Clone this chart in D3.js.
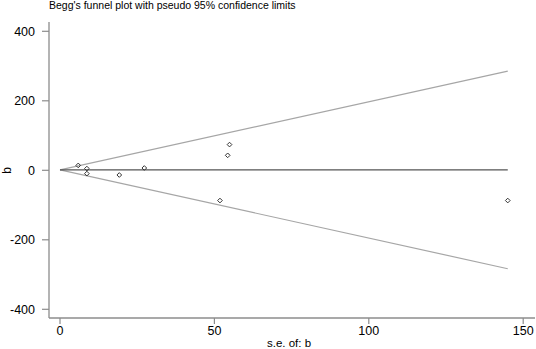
<!DOCTYPE html>
<html>
<head>
<meta charset="utf-8">
<script src="https://cdn.jsdelivr.net/npm/d3@7"></script>
<style>
  body { margin: 0; background: #fff; }
  text { font-family: "Liberation Sans", Arial, sans-serif; fill: #000; }
</style>
</head>
<body>
<div id="chart"></div>
<script>
// study standard errors and effect estimates
const seValues = [5.9, 8.7, 8.7, 19.2, 27.3, 51.8, 54.3, 54.9, 145];
const bValues = [14, 5, -9.5, -13.5, 6.6, -87, 43, 74, -87];
const pooled = 1;
const xTicks = [0, 50, 100, 150];
const yTicks = [-400, -200, 0, 200, 400];

const width = 536, height = 349;

const svg = d3.select("#chart").append("svg")
    .attr("width", width)
    .attr("height", height);

const x = d3.scaleLinear().domain([0, 50]).range([60, 214.4]);
const y = d3.scaleLinear().domain([0, 400]).range([170.3, 31.3]);

const axisLeft = 49, axisBottom = 318;

// axes
svg.append("line")
    .attr("x1", axisLeft).attr("x2", axisLeft)
    .attr("y1", 22).attr("y2", axisBottom)
    .attr("stroke", "#8c8c8c").attr("stroke-width", 1.3);
svg.append("line")
    .attr("x1", axisLeft).attr("x2", 535)
    .attr("y1", axisBottom).attr("y2", axisBottom)
    .attr("stroke", "#8c8c8c").attr("stroke-width", 1.3);

svg.selectAll(".ytick").data(yTicks).enter().append("line")
    .attr("x1", axisLeft - 7).attr("x2", axisLeft)
    .attr("y1", d => y(d)).attr("y2", d => y(d))
    .attr("stroke", "#8c8c8c").attr("stroke-width", 1.2);
svg.selectAll(".ylab").data(yTicks).enter().append("text")
    .attr("x", 35).attr("y", d => y(d) + 4.5)
    .attr("text-anchor", "end")
    .attr("font-size", 12.5)
    .text(d => d);

svg.selectAll(".xtick").data(xTicks).enter().append("line")
    .attr("x1", d => x(d)).attr("x2", d => x(d))
    .attr("y1", axisBottom).attr("y2", axisBottom + 6)
    .attr("stroke", "#8c8c8c").attr("stroke-width", 1.2);
svg.selectAll(".xlab").data(xTicks).enter().append("text")
    .attr("x", d => x(d)).attr("y", 335)
    .attr("text-anchor", "middle")
    .attr("font-size", 12.5)
    .text(d => d);

svg.append("text")
    .attr("x", 289).attr("y", 346.5)
    .attr("text-anchor", "middle")
    .attr("font-size", 11.5)
    .text("s.e. of: b");

svg.append("text")
    .attr("transform", `translate(11,${y(0)}) rotate(-90)`)
    .attr("text-anchor", "middle")
    .attr("font-size", 12)
    .text("b");

svg.append("text")
    .attr("x", 49).attr("y", 9)
    .attr("font-size", 10.5)
    .text("Begg's funnel plot with pseudo 95% confidence limits");

// funnel lines
const seMax = d3.max(seValues);
[1.96, -1.96].forEach(z => {
    svg.append("line")
        .attr("x1", x(0)).attr("y1", y(pooled))
        .attr("x2", x(seMax)).attr("y2", y(pooled + z * seMax))
        .attr("stroke", "#a6a6a6").attr("stroke-width", 1.2);
});
svg.append("line")
    .attr("x1", x(0)).attr("y1", y(pooled))
    .attr("x2", x(seMax)).attr("y2", y(pooled))
    .attr("stroke", "#555").attr("stroke-width", 1.3);

// study markers
const pts = seValues.map((s, i) => ({ se: s, b: bValues[i] }));
svg.selectAll(".pt").data(pts).enter().append("path")
    .attr("d", d3.symbol(d3.symbolDiamond2, 14))
    .attr("transform", d => `translate(${x(d.se)},${y(d.b)})`)
    .attr("fill", "none")
    .attr("stroke", "#333")
    .attr("stroke-width", 1);
</script>
</body>
</html>
